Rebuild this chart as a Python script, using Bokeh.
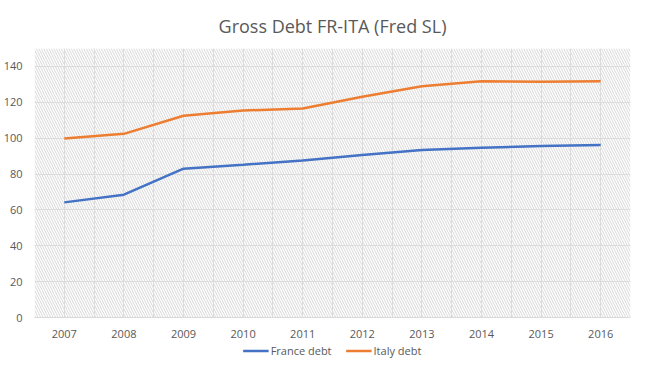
from bokeh.plotting import figure
from bokeh.models import FixedTicker, Legend, LegendItem, Range1d, ColumnDataSource
from bokeh.layouts import column
from bokeh.embed import file_html
from bokeh.resources import INLINE

years = ["2007", "2008", "2009", "2010", "2011", "2012", "2013", "2014", "2015", "2016"]
france_debt = [64.2, 68.5, 83.0, 85.2, 87.5, 90.6, 93.4, 94.6, 95.6, 96.2]
italy_debt = [99.8, 102.4, 112.5, 115.4, 116.5, 123.1, 129.0, 131.8, 131.5, 131.8]
y_ticks = [0, 20, 40, 60, 80, 100, 120, 140]
series_names = ["France debt", "Italy debt"]
series_colors = ["#4472C4", "#ED7D31"]

idx = list(range(len(years)))
src = ColumnDataSource(dict(x=idx, fr=france_debt, it=italy_debt))

FONT = "Open Sans"
GRAY = "#595959"

p = figure(width=634, height=341, output_backend="svg", toolbar_location=None,
           x_range=Range1d(-0.5, len(years) - 0.5), y_range=Range1d(0, 150),
           min_border_left=0, min_border_right=4, min_border_top=8, min_border_bottom=24)
p.outline_line_color = None
p.background_fill_color = "white"

# hatched plot area
p.quad(left=[-0.5], right=[len(years) - 0.5], bottom=[0], top=[150],
       fill_color="white", line_color=None,
       hatch_pattern="\\", hatch_color="#d2d2d2", hatch_scale=5, hatch_weight=0.9, level="underlay")

p.title.text = "Gross Debt FR-ITA (Fred SL)"
p.title.align = "center"
p.title.text_font = FONT
p.title.text_font_size = "18px"
p.title.text_font_style = "normal"
p.title.text_color = GRAY
p.title.standoff = 22

p.xaxis.ticker = FixedTicker(ticks=idx)
p.xaxis.major_label_overrides = {i: y for i, y in enumerate(years)}
p.yaxis.ticker = FixedTicker(ticks=y_ticks)
for ax in (p.xaxis[0], p.yaxis[0]):
    ax.major_label_text_font = FONT
    ax.major_label_text_font_size = "11px"
    ax.major_label_text_color = GRAY
    ax.major_tick_line_color = None
    ax.minor_tick_line_color = None
p.yaxis.axis_line_color = None
p.xaxis.axis_line_color = "#d9d9d9"
p.xaxis.major_label_standoff = 6
p.yaxis.major_label_standoff = 6

p.xgrid.ticker = FixedTicker(ticks=[i / 2 - 0.5 for i in range(2 * len(years) + 1)])
p.xgrid.grid_line_color = "#dcdcdc"
p.ygrid.grid_line_color = "#dcdcdc"
p.xgrid.level = "underlay"
p.ygrid.level = "underlay"

p.line("x", "fr", source=src, line_color=series_colors[0], line_width=2.5)
p.line("x", "it", source=src, line_color=series_colors[1], line_width=2.5)

# legend strip below the chart (its lines lie outside its view; only the legend shows)
lg = figure(width=634, height=18, output_backend="svg", toolbar_location=None,
            x_range=Range1d(1000, 1001), y_range=Range1d(1000, 1001),
            x_axis_location=None, y_axis_location=None,
            min_border_left=0, min_border_right=0, min_border_top=0, min_border_bottom=0)
lg.outline_line_color = None
lg.grid.visible = False
items = []
for name, col, key in zip(series_names, series_colors, ["fr", "it"]):
    r = lg.line("x", key, source=src, line_color=col, line_width=2.5)
    items.append(LegendItem(label=name, renderers=[r]))
legend = Legend(items=items, orientation="horizontal", location="center",
                label_text_font=FONT, label_text_font_size="11px", label_text_color=GRAY,
                glyph_width=26, glyph_height=14, label_height=14, label_standoff=2, spacing=14,
                border_line_color=None, background_fill_alpha=0, padding=1, margin=0)
lg.add_layout(legend, "center")

layout = column(p, lg, spacing=0)
open("out.html", "w").write(file_html(layout, INLINE))
